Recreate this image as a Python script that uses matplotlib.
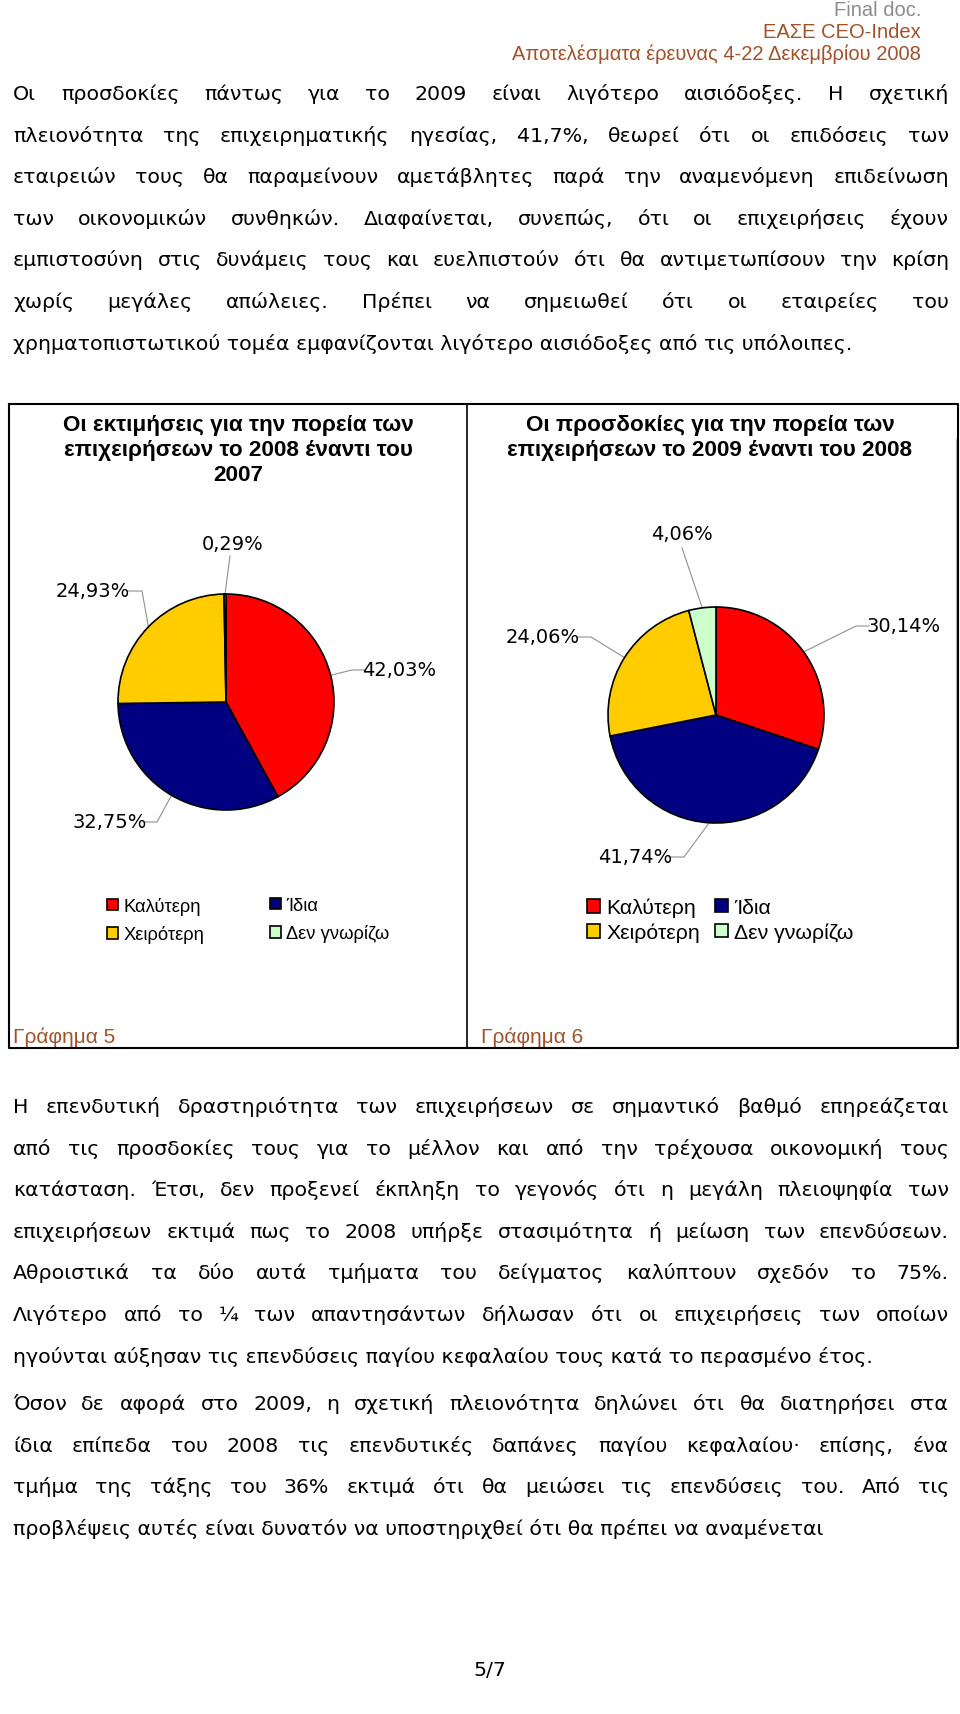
import matplotlib
matplotlib.use('Agg')
import matplotlib.pyplot as plt
from matplotlib.legend import Legend
import numpy as np

# --- data ---
cats = ['Καλύτερη', 'Ίδια', 'Χειρότερη', 'Δεν γνωρίζω']
colors = ['#FF0000', '#000080', '#FFCC00', '#CCFFCC']
vals_2008 = [42.03, 32.75, 24.93, 0.29]
vals_2009 = [30.14, 41.74, 24.06, 4.06]
title_2008 = 'Οι εκτιμήσεις για την πορεία των\nεπιχειρήσεων το 2008 έναντι του\n2007'
title_2009 = 'Οι προσδοκίες για την πορεία των\nεπιχειρήσεων το 2009 έναντι του 2008'

header = ['Final doc.', 'ΕΑΣΕ CEO-Index', 'Αποτελέσματα έρευνας 4-22 Δεκεμβρίου 2008']

para1 = [
    'Οι προσδοκίες πάντως για το 2009 είναι λιγότερο αισιόδοξες. Η σχετική',
    'πλειονότητα της επιχειρηματικής ηγεσίας, 41,7%, θεωρεί ότι οι επιδόσεις των',
    'εταιρειών τους θα παραμείνουν αμετάβλητες παρά την αναμενόμενη επιδείνωση',
    'των οικονομικών συνθηκών. Διαφαίνεται, συνεπώς, ότι οι επιχειρήσεις έχουν',
    'εμπιστοσύνη στις δυνάμεις τους και ευελπιστούν ότι θα αντιμετωπίσουν την κρίση',
    'χωρίς μεγάλες απώλειες. Πρέπει να σημειωθεί ότι οι εταιρείες του',
    'χρηματοπιστωτικού τομέα εμφανίζονται λιγότερο αισιόδοξες από τις υπόλοιπες.',
]
para2 = [
    'Η επενδυτική δραστηριότητα των επιχειρήσεων σε σημαντικό βαθμό επηρεάζεται',
    'από τις προσδοκίες τους για το μέλλον και από την τρέχουσα οικονομική τους',
    'κατάσταση. Έτσι, δεν προξενεί έκπληξη το γεγονός ότι η μεγάλη πλειοψηφία των',
    'επιχειρήσεων εκτιμά πως το 2008 υπήρξε στασιμότητα ή μείωση των επενδύσεων.',
    'Αθροιστικά τα δύο αυτά τμήματα του δείγματος καλύπτουν σχεδόν το 75%.',
    'Λιγότερο από το ¼ των απαντησάντων δήλωσαν ότι οι επιχειρήσεις των οποίων',
    'ηγούνται αύξησαν τις επενδύσεις παγίου κεφαλαίου τους κατά το περασμένο έτος.',
]
para3 = [
    'Όσον δε αφορά στο 2009, η σχετική πλειονότητα δηλώνει ότι θα διατηρήσει στα',
    'ίδια επίπεδα του 2008 τις επενδυτικές δαπάνες παγίου κεφαλαίου· επίσης, ένα',
    'τμήμα της τάξης του 36% εκτιμά ότι θα μειώσει τις επενδύσεις του. Από τις',
    'προβλέψεις αυτές είναι δυνατόν να υποστηριχθεί ότι θα πρέπει να αναμένεται',
]

W, H = 960, 1715
BROWN = '#A0522D'
BODY = dict(family='DejaVu Sans', fontsize=14.75, color='black')
NARROW = ['Liberation Sans', 'DejaVu Sans']

fig = plt.figure(figsize=(W / 100, H / 100), dpi=100)
ax = fig.add_axes([0, 0, 1, 1])
ax.set_xlim(0, W)
ax.set_ylim(H, 0)
ax.axis('off')
rend = fig.canvas.get_renderer()


def put_line(text, y, justify=True, x0=13, x1=949):
    words = text.split()
    if not justify:
        ax.text(x0, y, text, ha='left', va='baseline', **BODY)
        return
    arts = [ax.text(0, y, w, ha='left', va='baseline', **BODY) for w in words]
    widths = [a.get_window_extent(renderer=rend).width for a in arts]
    gap = (x1 - x0 - sum(widths)) / (len(words) - 1)
    x = x0
    for a, w in zip(arts, widths):
        a.set_x(x)
        x += w + gap


def paragraph(lines, y0, step=41.6):
    for i, ln in enumerate(lines):
        put_line(ln, y0 + i * step, justify=(i < len(lines) - 1))


# header
ax.text(921, 10, header[0], ha='right', va='center', color='#8C8C8C', fontsize=14.5, family=NARROW)
ax.text(921, 33, header[1], ha='right', va='center', color=BROWN, fontsize=14.5, family=NARROW)
ax.text(921, 54, header[2], ha='right', va='center', color=BROWN, fontsize=14.5, family=NARROW)

paragraph(para1, 100)
paragraph(para2, 1113)
paragraph(para3, 1410)
ax.text(490, 1671, '5/7', ha='center', va='center', **BODY)

# box around the two charts
ax.plot([9, 958, 958, 9, 9], [405, 405, 1049, 1049, 405], color='black', lw=1.5)
ax.plot([467, 467], [405, 1049], color='black', lw=1.2)
ax.plot([956, 956], [440, 1045], color='#B0B0B0', lw=0.8)

ax.text(238, 415, title_2008, ha='center', va='top', fontsize=16.2, fontweight='bold',
        family=NARROW, linespacing=1.24)
ax.text(710, 415, title_2009, ha='center', va='top', fontsize=16.2, fontweight='bold',
        family=NARROW, linespacing=1.24)
ax.text(13, 1037, 'Γράφημα 5', ha='left', va='center', color=BROWN, fontsize=15, family=NARROW)
ax.text(481, 1037, 'Γράφημα 6', ha='left', va='center', color=BROWN, fontsize=15, family=NARROW)


def pie_at(cx, cy, r, vals):
    h = r * 1.05
    pax = fig.add_axes([(cx - h) / W, 1 - (cy + h) / H, 2 * h / W, 2 * h / H])
    wedges, _ = pax.pie(vals, colors=colors, startangle=90, counterclock=False,
                        wedgeprops=dict(edgecolor='black', linewidth=1.2))
    pax.set_xlim(-1.05, 1.05)
    pax.set_ylim(-1.05, 1.05)
    return wedges


def labels(wedges, vals, cx, cy, r, spots):
    for wd, v, (tx, ty, ha, ex, ey) in zip(wedges, vals, spots):
        a = np.deg2rad((wd.theta1 + wd.theta2) / 2)
        rx, ry = cx + r * np.cos(a), cy - r * np.sin(a)
        txt = f'{v:.2f}%'.replace('.', ',')
        if ha == 'center':
            ax.plot([rx, ex], [ry, ey], color='#909090', lw=0.8)
        else:
            end = tx - 3 if ha == 'right' else tx + 3
            ax.plot([rx, ex, end], [ry, ey, ey], color='#909090', lw=0.8)
        ax.text(tx, ty, txt, ha=ha, va='center', fontsize=14, family='DejaVu Sans')


w1 = pie_at(226, 703, 108, vals_2008)
labels(w1, vals_2008, 226, 703, 108, [
    (362, 671, 'left', 352, 671),
    (147, 823, 'right', 157, 823),
    (130, 592, 'right', 142, 592),
    (233, 545, 'center', 230, 557),
])
w2 = pie_at(716, 716, 108, vals_2009)
labels(w2, vals_2009, 716, 716, 108, [
    (866, 627, 'left', 856, 627),
    (672, 858, 'right', 684, 858),
    (580, 638, 'right', 591, 638),
    (682, 535, 'center', 682, 549),
])


def legend_cols(wedges, xs, y, fs, sp):
    cols = [[0, 2], [1, 3]]
    for x, idx in zip(xs, cols):
        lg = Legend(ax, [wedges[i] for i in idx], [cats[i] for i in idx], loc='upper left',
                    bbox_to_anchor=(x / W, 1 - y / H), bbox_transform=fig.transFigure,
                    frameon=False, borderpad=0, borderaxespad=0, handlelength=0.6,
                    handleheight=0.6, handletextpad=0.3, labelspacing=sp,
                    prop=dict(family=NARROW, size=fs))
        ax.add_artist(lg)


legend_cols(w1, [107, 270], 898, 13.2, 0.56)
legend_cols(w2, [587, 715], 899, 15.3, 0.25)

fig.savefig('out.png', dpi=100)
